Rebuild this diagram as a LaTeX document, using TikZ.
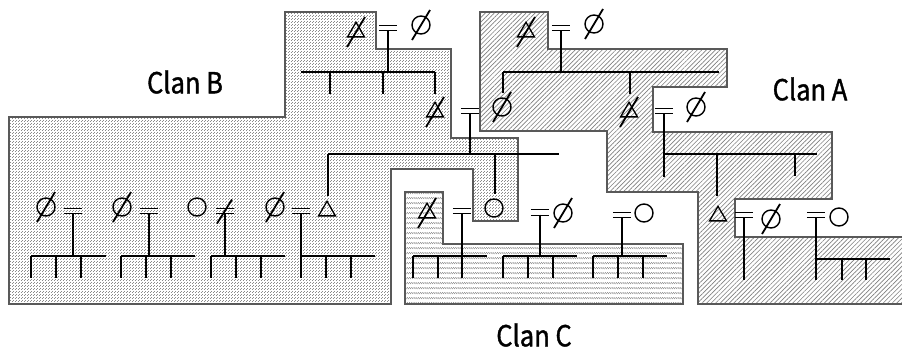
\documentclass[tikz,border=0pt]{standalone}
\usepackage{fontspec}
\newfontfamily\clanfont[FakeStretch=0.88,FakeBold=1.2]{Noto Sans CJK JP}
\usetikzlibrary{shapes.geometric,patterns,patterns.meta}

% fine checker of dots (Clan B)
\pgfdeclarepatternformonly{stipple}{\pgfqpoint{0pt}{0pt}}{\pgfqpoint{3pt}{3pt}}{\pgfqpoint{3pt}{3pt}}{%
  \pgfpathrectangle{\pgfqpoint{0pt}{0pt}}{\pgfqpoint{1pt}{1pt}}%
  \pgfpathrectangle{\pgfqpoint{1.5pt}{1.5pt}}{\pgfqpoint{1pt}{1pt}}%
  \pgfusepath{fill}}
% rows of short back-slashes (Clan C)
\pgfdeclarepatternformonly{rowhatch}{\pgfqpoint{-0.5pt}{-0.5pt}}{\pgfqpoint{3pt}{5.5pt}}{\pgfqpoint{2.2pt}{5pt}}{%
  \pgfsetlinewidth{0.55pt}%
  \pgfpathmoveto{\pgfqpoint{0pt}{1.8pt}}\pgfpathlineto{\pgfqpoint{1.8pt}{0pt}}%
  \pgfusepath{stroke}}

\tikzset{
  region/.style={draw=black!65, line width=1.2pt},
  kin/.style={line width=1.6pt},
  fem/.style={circle, draw, line width=1.4pt, minimum size=18pt, inner sep=0pt},
  male/.style={regular polygon, regular polygon sides=3, draw, line width=1.3pt,
               minimum size=19.5pt, inner sep=0pt},
  wed/.style={minimum width=18pt, minimum height=5pt, inner sep=0pt,
              append after command={[line width=1.4pt]
                (\tikzlastnode.north west) edge (\tikzlastnode.north east)
                (\tikzlastnode.south west) edge (\tikzlastnode.south east)}},
  clan/.style={font=\clanfont\fontsize{29}{29}\selectfont, inner sep=0pt},
  deadline/.style={line width=1.8pt},
}
% diagonal stroke through a deceased person or a broken marriage
\newcommand\deadmark[1]{\draw[deadline] ([shift={(-9,15)}]#1.center) -- ([shift={(9,-15)}]#1.center);}

\begin{document}
\begin{tikzpicture}[x=1pt,y=-1pt]
\useasboundingbox (0,0) rectangle (902,349);
\fill[white] (0,0) rectangle (902,349);

% ---------- clan areas ----------
\def\clanB{(9,117) -- (285,117) -- (285,12) -- (376,12) -- (376,49) -- (451,49)
  -- (451,138) -- (518,138) -- (518,221) -- (473,221) -- (473,169) -- (391,169)
  -- (391,304) -- (9,304) -- cycle}
\def\clanC{(405,192) -- (443,192) -- (443,244) -- (683,244) -- (683,304) -- (405,304) -- cycle}
\fill[pattern=stipple, pattern color=black!45] \clanB;
\draw[region] \clanB;
\fill[pattern=rowhatch, pattern color=black!50] \clanC;
\draw[region] \clanC;
\fill[pattern={Lines[angle=45,distance=3.2pt,line width=0.65pt]}, pattern color=black!50]
  (480,12) -- (548,12) -- (548,49) -- (727,49) -- (727,87) -- (653,87) -- (653,132)
  -- (832,132) -- (832,199) -- (735,199) -- (735,237) -- (902,237) -- (902,304)
  -- (698,304) -- (698,192) -- (607,192) -- (607,131) -- (480,131) -- cycle;
\draw[region] (902,237) -- (735,237) -- (735,199) -- (832,199) -- (832,132) -- (653,132)
  -- (653,87) -- (727,87) -- (727,49) -- (548,49) -- (548,12) -- (480,12) -- (480,131)
  -- (607,131) -- (607,192) -- (698,192) -- (698,304) -- (902,304);

% ---------- labels ----------
\node[clan] (labB) at (185,82) {Clan B};
\node[clan] (labA) at (810,89) {Clan A};
\node[clan] (labC) at (534,335) {Clan C};

% ---------- Clan B, first generation ----------
\node[male] (b1h) at (356,32) {}; \deadmark{b1h}
\node[wed]  (b1m) at (388,27.5) {};
\node[fem]  (b1w) at (421,25) {}; \deadmark{b1w}
\coordinate (b1j) at (388,72);
\coordinate (b1s0) at (301,72); \coordinate (b1s1) at (330,72);
\coordinate (b1s2) at (383,72); \coordinate (b1s3) at (435,72);
\draw[kin] (b1m.south) -- (b1j);
\draw[kin] (b1s0) -- (b1s3);
\draw[kin] (b1s1) -- ++(0,22);
\draw[kin] (b1s2) -- ++(0,22);
\draw[kin] (b1s3) -- ++(0,22);

% ---------- Clan A, first generation ----------
\node[male] (a1h) at (526,32) {}; \deadmark{a1h}
\node[wed]  (a1m) at (561,27.5) {};
\node[fem]  (a1w) at (594,24) {}; \deadmark{a1w}
\coordinate (a1j) at (561,72);
\coordinate (a1s0) at (503,72); \coordinate (a1s1) at (630,72); \coordinate (a1s2) at (719,72);
\draw[kin] (a1m.south) -- (a1j);
\draw[kin] (a1s0) -- (a1s2);
\draw[kin] (a1s0) -- ++(0,21);
\draw[kin] (a1s1) -- ++(0,22);

% ---------- second generation ----------
\node[male] (b2h) at (435,112) {}; \deadmark{b2h}
\node[wed]  (b2m) at (470,110.5) {};
\node[fem]  (b2w) at (502,107) {}; \deadmark{b2w}
\coordinate (b2j) at (470,154);
\coordinate (b2s0) at (328,154); \coordinate (b2s1) at (495,154); \coordinate (b2s2) at (559,154);
\draw[kin] (b2m.south) -- (b2j);
\draw[kin] (b2s0) -- (b2s2);
\draw[kin] (b2s0) -- ++(0,42);
\draw[kin] (b2s1) -- ++(0,40);

\node[male] (a2h) at (629,112) {}; \deadmark{a2h}
\node[wed]  (a2m) at (664,110.5) {};
\node[fem]  (a2w) at (696,107) {}; \deadmark{a2w}
\coordinate (a2j) at (664,154);
\coordinate (a2s1) at (717,154); \coordinate (a2s2) at (795,154); \coordinate (a2s3) at (817,154);
\draw[kin] (a2m.south) -- (a2j) -- ++(0,23);
\draw[kin] (a2j) -- (a2s3);
\draw[kin] (a2s1) -- ++(0,42);
\draw[kin] (a2s2) -- ++(0,22);

% ---------- Clan B, third generation ----------
\node[fem] (g1w) at (46,207) {}; \deadmark{g1w}
\node[wed] (g1m) at (73,210.5) {};
\coordinate (g1j) at (73,256);
\coordinate (g1s0) at (31,256); \coordinate (g1s1) at (56,256);
\coordinate (g1s2) at (81,256); \coordinate (g1s3) at (106,256);
\draw[kin] (g1m.south) -- (g1j);
\draw[kin] (g1s0) -- (g1s3);
\foreach \c in {g1s0,g1s1,g1s2} \draw[kin] (\c) -- ++(0,22);

\node[fem] (g2w) at (122,207) {}; \deadmark{g2w}
\node[wed] (g2m) at (149,210.5) {};
\coordinate (g2j) at (149,256);
\coordinate (g2s0) at (121,256); \coordinate (g2s1) at (146,256);
\coordinate (g2s2) at (171,256); \coordinate (g2s3) at (195,256);
\draw[kin] (g2m.south) -- (g2j);
\draw[kin] (g2s0) -- (g2s3);
\foreach \c in {g2s0,g2s1,g2s2} \draw[kin] (\c) -- ++(0,22);

\node[fem] (g3w) at (197,207) {};
\node[wed] (g3m) at (225,210.5) {};
\draw[deadline] ([shift={(-8,13)}]g3m.center) -- ([shift={(7,-11)}]g3m.center);
\coordinate (g3j) at (225,256);
\coordinate (g3s0) at (211,256); \coordinate (g3s1) at (236,256);
\coordinate (g3s2) at (261,256); \coordinate (g3s3) at (285,256);
\draw[kin] (g3m.south) -- (g3j);
\draw[kin] (g3s0) -- (g3s3);
\foreach \c in {g3s0,g3s1,g3s2} \draw[kin] (\c) -- ++(0,22);

\node[fem]  (g4w) at (275,207) {}; \deadmark{g4w}
\node[wed]  (g4m) at (301,210.5) {};
\node[male] (b3h) at (327,211) {};
\coordinate (g4j) at (301,256);
\coordinate (g4s1) at (326,256); \coordinate (g4s2) at (351,256); \coordinate (g4s3) at (375,256);
\draw[kin] (g4m.south) -- (g4j) -- ++(0,22);
\draw[kin] (g4j) -- (g4s3);
\foreach \c in {g4s1,g4s2} \draw[kin] (\c) -- ++(0,22);

\node[fem] (b3w) at (494,208) {};

% ---------- Clan C ----------
\node[male] (c1h) at (427,213) {}; \deadmark{c1h}
\node[wed]  (c1m) at (462,210.5) {};
\coordinate (c1j) at (462,256);
\coordinate (c1s0) at (413,256); \coordinate (c1s1) at (438,256); \coordinate (c1s2) at (487,256);
\draw[kin] (c1m.south) -- (c1j) -- ++(0,22);
\draw[kin] (c1s0) -- (c1s2);
\foreach \c in {c1s0,c1s1} \draw[kin] (\c) -- ++(0,22);

\node[wed] (c2m) at (540,212) {};
\node[fem] (c2w) at (563,213) {}; \deadmark{c2w}
\coordinate (c2j) at (540,256);
\coordinate (c2s0) at (503,256); \coordinate (c2s1) at (528,256);
\coordinate (c2s2) at (553,256); \coordinate (c2s3) at (577,256);
\draw[kin] (c2m.south) -- (c2j);
\draw[kin] (c2s0) -- (c2s3);
\foreach \c in {c2s0,c2s1,c2s2} \draw[kin] (\c) -- ++(0,22);

\node[wed] (c3m) at (622,214.5) {};
\node[fem] (c3w) at (644,213) {};
\coordinate (c3j) at (622,256);
\coordinate (c3s0) at (593,256); \coordinate (c3s1) at (618,256);
\coordinate (c3s2) at (643,256); \coordinate (c3s3) at (667,256);
\draw[kin] (c3m.south) -- (c3j);
\draw[kin] (c3s0) -- (c3s3);
\foreach \c in {c3s0,c3s1,c3s2} \draw[kin] (\c) -- ++(0,22);

% ---------- Clan A, third generation ----------
\node[male] (a3h) at (718,216) {};
\node[wed]  (a3m) at (744,214.5) {};
\node[fem]  (a3w) at (771,219) {}; \deadmark{a3w}
\coordinate (a3e) at (744,280);
\draw[kin] (a3m.south) -- (a3e);

\node[wed] (a4m) at (816,214.5) {};
\node[fem] (a4w) at (839,217) {};
\coordinate (a4j) at (816,259);
\coordinate (a4s1) at (842,259); \coordinate (a4s2) at (866,259); \coordinate (a4s3) at (890,259);
\draw[kin] (a4m.south) -- (a4j) -- ++(0,21);
\draw[kin] (a4j) -- (a4s3);
\foreach \c in {a4s1,a4s2} \draw[kin] (\c) -- ++(0,21);
\end{tikzpicture}
\end{document}
